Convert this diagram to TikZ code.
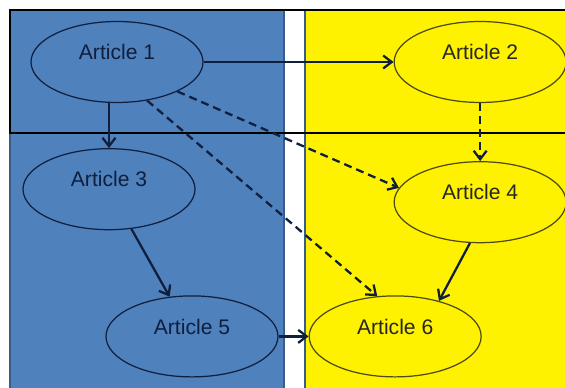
\documentclass[tikz,border=0pt]{standalone}
\usepackage{fontspec}
\setmainfont{Liberation Sans}
\usepackage{tikz}
\usetikzlibrary{positioning,shapes.geometric,arrows.meta}
\definecolor{panelblue}{HTML}{4F81BD}
\definecolor{paneledge}{HTML}{385D8A}
\definecolor{navy}{HTML}{0F1F3D}
\definecolor{olive}{HTML}{4D4A10}

\begin{document}
\begin{tikzpicture}[x=0.02cm, y=0.02cm,
    article/.style={draw, ellipse, line width=0.7pt, minimum width=3.44cm, minimum height=1.62cm, inner sep=0pt, text depth=0.4cm, font=\fontsize{12}{14}\selectfont},
    bluearticle/.style={article, draw=navy, fill=panelblue, text=navy},
    yellowarticle/.style={article, draw=olive, fill=yellow, text=black!85},
    link/.style={-{Straight Barb[length=0.17cm, width=0.26cm]}, line width=1.3pt, draw=navy},
    weaklink/.style={link, dash pattern=on 0.16cm off 0.1cm}]
    % page and the two columns
    \useasboundingbox[fill=white] (0,0) rectangle (565,388);
    \fill[panelblue] (10,0) rectangle (284,378);
    \fill[yellow] (305,0) rectangle (565,378);
    \draw[paneledge, line width=0.8pt] (10,0) -- (10,378) (284,0) -- (284,378) (305,0) -- (305,378);
    \draw[line width=1.4pt, black] (565,378) -- (10,378) -- (10,255) -- (565,255);
    % articles
    \node[bluearticle] (a1) at (117,326) {Article 1};
    \node[yellowarticle, right=3.8cm of a1] (a2) {Article 2};
    \node[bluearticle, below=0.9cm of a1, xshift=-0.16cm] (a3) {Article 3};
    \node[yellowarticle, below=1.16cm of a2] (a4) {Article 4};
    \node[yellowarticle, below=1.04cm of a4, xshift=-1.7cm] (a6) {Article 6};
    \node[bluearticle, left=0.6cm of a6] (a5) {Article 5};
    % links
    \draw[link] (a1) -- (a2);
    \draw[link] (a1.south -| a3.north) -- (a3.north);
    \draw[weaklink] (a1.-26) -- (a4.170);
    \draw[weaklink] (a1.-52) -- (a6.114);
    \draw[weaklink] (a2) -- (a4);
    \draw[link] (a3) -- (a5);
    \draw[link] (a4.-104) -- (a6.39);
    \draw[link] (a5) -- (a6);
\end{tikzpicture}
\end{document}
